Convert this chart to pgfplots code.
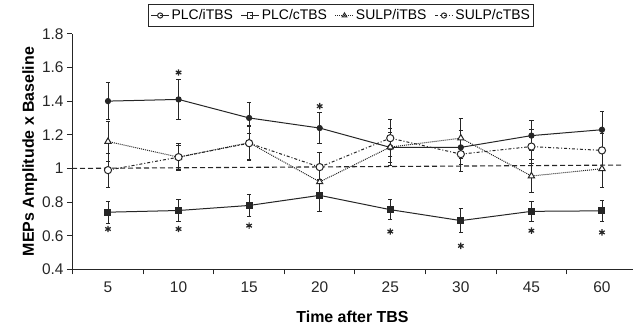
\documentclass[border=0pt]{standalone}
\usepackage{pgfplots}
\pgfplotsset{compat=1.18}
\usepackage{fontspec}
\setmainfont{Liberation Sans}
\begin{document}
\begin{tikzpicture}[x=1bp,y=1bp]
\path[use as bounding box] (-72,-60) rectangle (563,269.4);
\begin{axis}[
  at={(0,0)}, anchor=south west,
  scale only axis, width=561bp, height=235.6bp,
  xmin=-0.51, xmax=7.44, ymin=0.4, ymax=1.8,
  axis x line=bottom, axis y line=left,
  axis line style={-, line width=1bp, black!85},
  xtick={0,...,7}, xticklabels={5,10,15,20,25,30,45,60},
  major x tick style={draw=none},
  minor xtick={-0.5,0.5,...,6.5},
  ytick={0.4,0.6,...,1.8},
  tick align=outside,
  major tick length=5bp, minor tick length=5bp,
  tick style={line width=1bp, black!85},
  yticklabel style={/pgf/number format/fixed, /pgf/number format/precision=1},
  /pgf/number format/assume math mode=true,
  tick label style={font=\fontsize{15.5}{18}\selectfont, black!85},
  xticklabel style={yshift=-4bp},
  xlabel={Time after TBS},
  ylabel={MEPs Amplitude x Baseline},
  label style={font=\fontsize{16}{19}\selectfont\bfseries},
  xlabel style={yshift=-11bp},
  ylabel style={yshift=-2bp},
  legend columns=4,
  legend style={at={(0.48,1)}, anchor=south, yshift=7bp,
    font=\fontsize{14}{16}\selectfont, draw=black!85, line width=1bp,
    inner xsep=2bp, inner ysep=3bp, /tikz/every even column/.append style={column sep=6bp}},
  legend image code/.code={\draw[#1, mark size=2.6bp, mark options={solid, fill=white}] (0bp,0bp) -- (9bp,0bp) plot coordinates {(9bp,0bp)} ; \draw[#1] (9bp,0bp) -- (18bp,0bp);},
  error bars/error bar style={line width=0.8bp, solid},
  error bars/error mark options={rotate=90, mark size=2.2bp, line width=0.8bp, solid},
]
\addplot[forget plot, dash pattern=on 5bp off 3bp, line width=1.1bp, black!85] coordinates {(-0.51,1.0) (7.29,1.02)};

\addplot[black!85, line width=1bp, mark=*, mark size=2.6bp,
  error bars/.cd, y dir=both, y explicit] coordinates {
  (0,1.40) +- (0,0.11)
  (1,1.41) +- (0,0.12)
  (2,1.30) +- (0,0.09)
  (3,1.24) +- (0,0.09)
  (4,1.125) +- (0,0.09)
  (5,1.125) +- (0,0.10)
  (6,1.195) +- (0,0.09)
  (7,1.23) +- (0,0.11)
};
\addlegendentry{PLC/iTBS}

\addplot[black!85, line width=1bp, mark=square*, mark size=3bp,
  error bars/.cd, y dir=both, y explicit] coordinates {
  (0,0.74) +- (0,0.065)
  (1,0.75) +- (0,0.065)
  (2,0.78) +- (0,0.065)
  (3,0.84) +- (0,0.095)
  (4,0.755) +- (0,0.06)
  (5,0.69) +- (0,0.07)
  (6,0.745) +- (0,0.06)
  (7,0.748) +- (0,0.06)
};
\addlegendentry{PLC/cTBS}

\addplot[black!85, line width=1bp, densely dotted, mark=triangle*, mark size=3.6bp,
  mark options={solid, fill=white},
  error bars/.cd, y dir=both, y explicit] coordinates {
  (0,1.16) +- (0,0.12)
  (1,1.067) +- (0,0.07)
  (2,1.153) +- (0,0.10)
  (3,0.92) +- (0,0.09)
  (4,1.127) +- (0,0.11)
  (5,1.18) +- (0,0.12)
  (6,0.955) +- (0,0.10)
  (7,0.998) +- (0,0.11)
};
\addlegendentry{SULP/iTBS}

\addplot[black!85, line width=1bp, dash dot, mark=*, mark size=3.6bp,
  mark options={solid, fill=white},
  error bars/.cd, y dir=both, y explicit] coordinates {
  (0,0.99) +- (0,0.10)
  (1,1.067) +- (0,0.08)
  (2,1.15) +- (0,0.10)
  (3,1.008) +- (0,0.09)
  (4,1.18) +- (0,0.11)
  (5,1.085) +- (0,0.10)
  (6,1.13) +- (0,0.10)
  (7,1.107) +- (0,0.10)
};
\addlegendentry{SULP/cTBS}

\addplot[forget plot, only marks, mark=asterisk, mark size=3.2bp, line width=1.2bp, black!85] coordinates {
  (0,0.64) (1,0.64) (2,0.66) (4,0.625) (5,0.54) (6,0.63) (7,0.62)
  (1,1.57) (3,1.37)
};
\end{axis}
\end{tikzpicture}
\end{document}
